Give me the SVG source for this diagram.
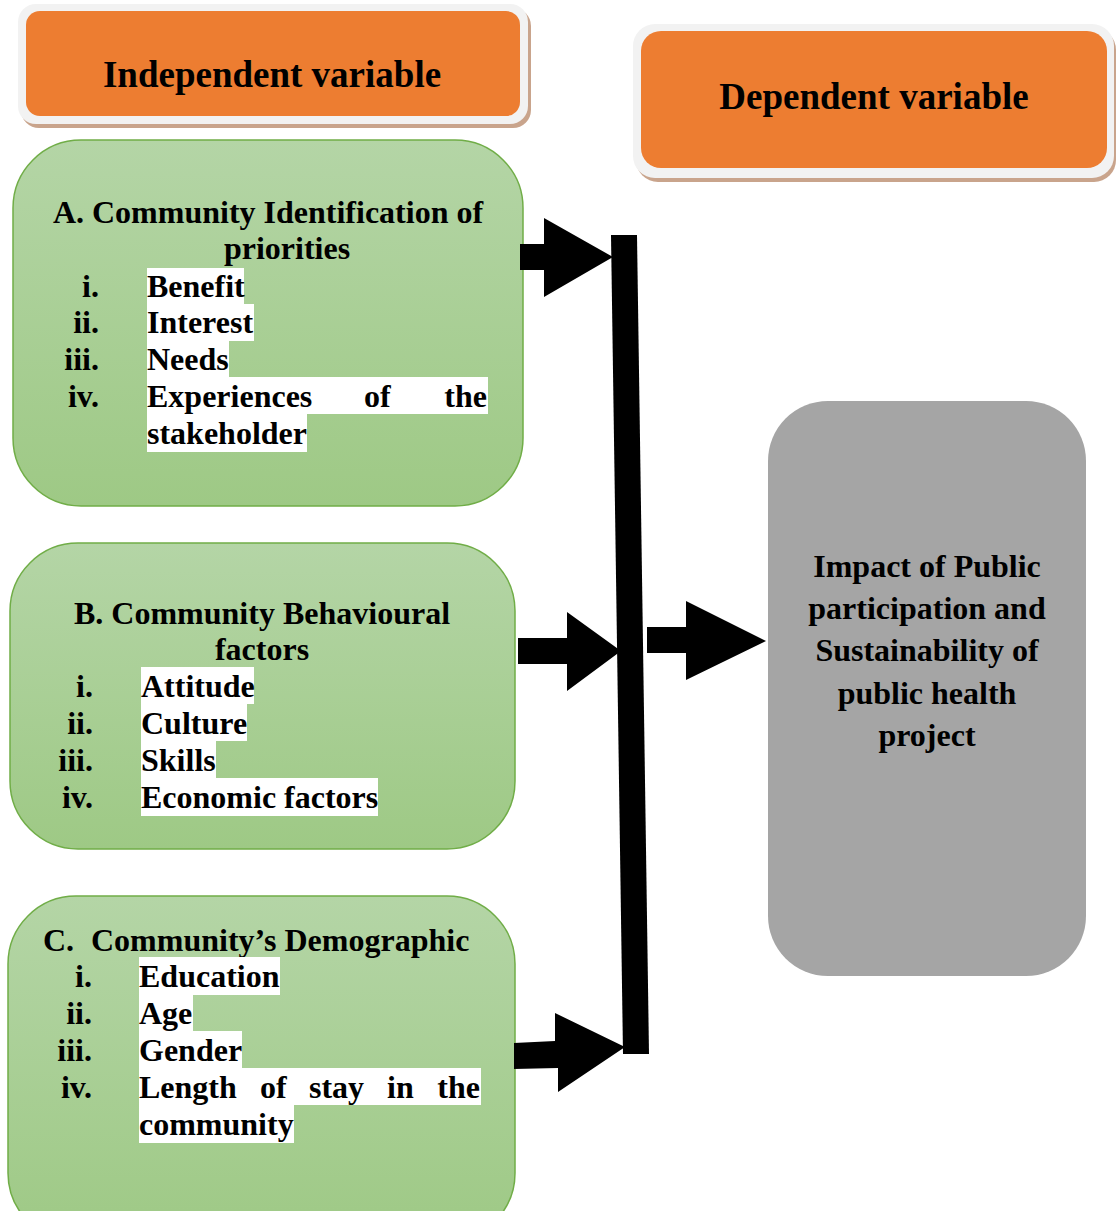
<svg xmlns="http://www.w3.org/2000/svg" width="1116" height="1211" viewBox="0 0 1116 1211">
<defs>
<linearGradient id="g" x1="0" y1="0" x2="0" y2="1">
<stop offset="0" stop-color="#b4d5a6"/>
<stop offset="1" stop-color="#9ec985"/>
</linearGradient>
<style>
text{font-family:"Liberation Serif","Times New Roman",serif;font-weight:bold;fill:#000}
.h{font-size:37px;text-anchor:middle}
.t{font-size:32px}
.c{text-anchor:middle}
.n{text-anchor:end}
.green{fill:url(#g);stroke:#70ad47;stroke-width:1.5}
.hl{fill:#fff}
.frame{fill:#f2f2f2}
.shadow{fill:#c9a48c}
.orange{fill:#ed7d31}
.arrow{fill:#000}
</style>
</defs>
<rect width="1116" height="1211" fill="#fff"/>

<g id="independent-header">
<rect class="shadow" x="21" y="8" width="510" height="120" rx="18"/>
<rect class="frame" x="18" y="4" width="510" height="120" rx="18"/>
<rect class="orange" x="26" y="11" width="494" height="105" rx="14"/>
<text class="h" x="272" y="87">Independent variable</text>
</g>

<g id="dependent-header">
<rect class="shadow" x="636" y="28" width="480" height="154" rx="22"/>
<rect class="frame" x="633" y="24" width="481" height="154" rx="22"/>
<rect class="orange" x="641" y="31" width="466" height="137" rx="20"/>
<text class="h" x="874" y="109">Dependent variable</text>
</g>

<g id="box-a">
<rect class="green" x="13" y="140" width="510" height="366" rx="68"/>
<text class="t c" x="268" y="223">A. Community Identification of</text>
<text class="t c" x="287" y="259">priorities</text>
<rect class="hl" x="147" y="268" width="97" height="36"/>
<rect class="hl" x="147" y="304" width="107" height="37"/>
<rect class="hl" x="147" y="341" width="82" height="36"/>
<rect class="hl" x="147" y="377" width="341" height="37"/>
<rect class="hl" x="147" y="414" width="160" height="38"/>
<text class="t n" x="99" y="297">i.</text>
<text class="t n" x="99" y="333">ii.</text>
<text class="t n" x="99" y="370">iii.</text>
<text class="t n" x="99" y="407">iv.</text>
<text class="t" x="147" y="297">Benefit</text>
<text class="t" x="147" y="333">Interest</text>
<text class="t" x="147" y="370">Needs</text>
<text class="t" x="147" y="407">Experiences</text>
<text class="t" x="364" y="407">of</text>
<text class="t n" x="487" y="407">the</text>
<text class="t" x="147" y="444">stakeholder</text>
</g>

<g id="box-b">
<rect class="green" x="10" y="543" width="505" height="306" rx="68"/>
<text class="t c" x="262" y="624">B. Community Behavioural</text>
<text class="t c" x="262" y="660">factors</text>
<rect class="hl" x="141" y="667" width="113" height="37"/>
<rect class="hl" x="141" y="704" width="106" height="37"/>
<rect class="hl" x="141" y="741" width="75" height="37"/>
<rect class="hl" x="141" y="778" width="237" height="38"/>
<text class="t n" x="93" y="697">i.</text>
<text class="t n" x="93" y="734">ii.</text>
<text class="t n" x="93" y="771">iii.</text>
<text class="t n" x="93" y="808">iv.</text>
<text class="t" x="141" y="697">Attitude</text>
<text class="t" x="141" y="734">Culture</text>
<text class="t" x="141" y="771">Skills</text>
<text class="t" x="141" y="808">Economic factors</text>
</g>

<g id="box-c">
<rect class="green" x="8" y="896" width="507" height="345" rx="68"/>
<text class="t" x="43" y="951">C.</text>
<text class="t" x="91" y="951">Community’s Demographic</text>
<rect class="hl" x="139" y="957" width="141" height="38"/>
<rect class="hl" x="139" y="995" width="54" height="36"/>
<rect class="hl" x="139" y="1031" width="103" height="37"/>
<rect class="hl" x="139" y="1068" width="342" height="37"/>
<rect class="hl" x="139" y="1105" width="155" height="38"/>
<text class="t n" x="92" y="987">i.</text>
<text class="t n" x="92" y="1024">ii.</text>
<text class="t n" x="92" y="1061">iii.</text>
<text class="t n" x="92" y="1098">iv.</text>
<text class="t" x="139" y="987">Education</text>
<text class="t" x="139" y="1024">Age</text>
<text class="t" x="139" y="1061">Gender</text>
<text class="t" x="139" y="1098">Length</text>
<text class="t" x="260" y="1098">of</text>
<text class="t" x="309" y="1098">stay</text>
<text class="t" x="387" y="1098">in</text>
<text class="t n" x="480" y="1098">the</text>
<text class="t" x="139" y="1135">community</text>
</g>

<g id="outcome">
<rect x="768" y="401" width="318" height="575" rx="60" fill="#a5a5a5"/>
<text class="t c" x="927" y="577">Impact of Public</text>
<text class="t c" x="927" y="619">participation and</text>
<text class="t c" x="927" y="661">Sustainability of</text>
<text class="t c" x="927" y="704">public health</text>
<text class="t c" x="927" y="746">project</text>
</g>

<g id="connectors">
<polygon class="arrow" points="611,235 637,235 649,1054 623,1054"/>
<polygon class="arrow" points="520,244 544,244 544,218 613,257 544,297 544,270 520,270"/>
<polygon class="arrow" points="518,638 567,638 567,612 621,651 567,691 567,664 518,664"/>
<polygon class="arrow" points="514,1043 555,1041 555,1013 625,1047 558,1092 558,1068 514,1069"/>
<polygon class="arrow" points="647,627 686,627 686,601 766,641 686,680 686,653 647,653"/>
</g>
</svg>
